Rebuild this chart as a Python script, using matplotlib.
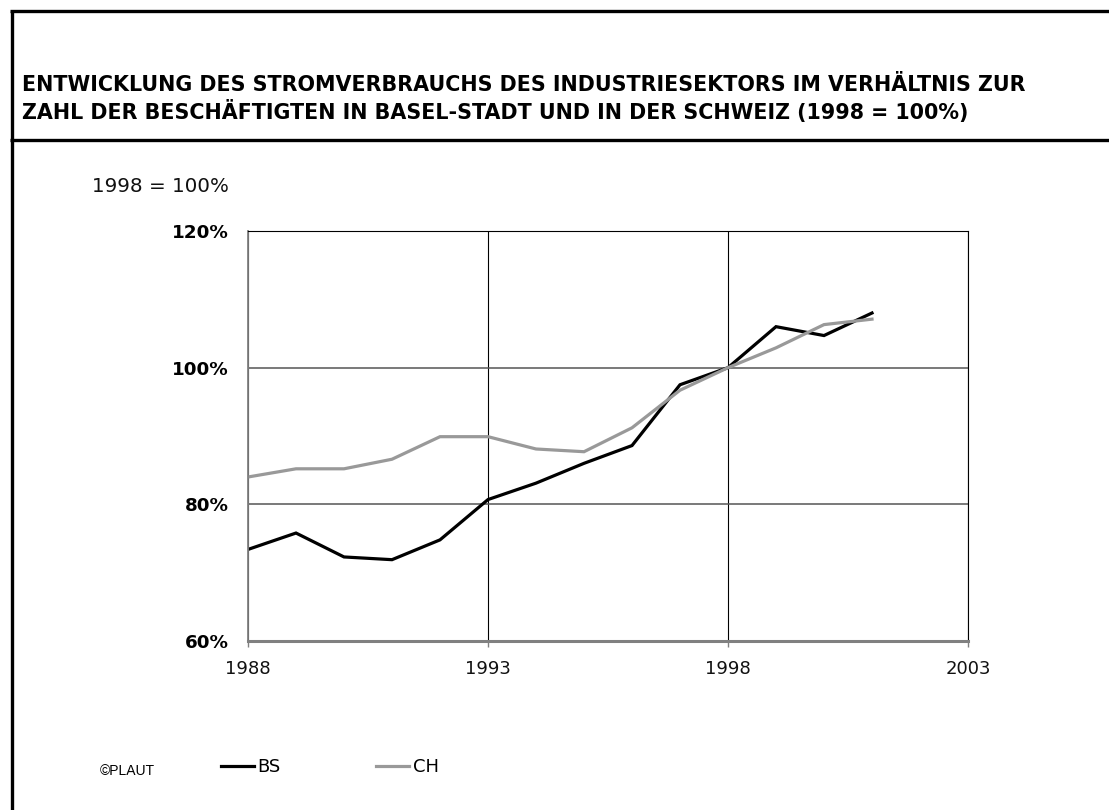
import matplotlib
matplotlib.use("Agg")
import matplotlib.pyplot as plt
from matplotlib.lines import Line2D
from matplotlib.ticker import FuncFormatter
from matplotlib import font_manager as fm

years = [1988, 1989, 1990, 1991, 1992, 1993, 1994, 1995, 1996, 1997, 1998, 1999, 2000, 2001]
bs_values = [73.4, 75.8, 72.3, 71.9, 74.8, 80.7, 83.1, 86.0, 88.6, 97.5, 100.0, 106.0, 104.7, 108.0]
ch_values = [84.0, 85.2, 85.2, 86.6, 89.9, 89.9, 88.1, 87.7, 91.2, 96.7, 100.0, 102.9, 106.3, 107.1]
series_names = ["BS", "CH"]
x_ticks = [1988, 1993, 1998, 2003]
y_ticks = [60, 80, 100, 120]
title_lines = ["ENTWICKLUNG DES STROMVERBRAUCHS DES INDUSTRIESEKTORS IM VERHÄLTNIS ZUR",
               "ZAHL DER BESCHÄFTIGTEN IN BASEL-STADT UND IN DER SCHWEIZ (1998 = 100%)"]
unit_label = "1998 = 100%"
credit = "©PLAUT"

W, H = 1109, 810
fig = plt.figure(figsize=(W / 100, H / 100), dpi=100)

avail = {f.name for f in fm.fontManager.ttflist}
narrow = [f for f in ["Liberation Sans Narrow", "DejaVu Sans Condensed"] if f in avail]
title_family = narrow + ["DejaVu Sans"]

def fx(px):
    return px / W

def fy(py):
    return 1 - py / H

# frame lines
fig.add_artist(Line2D([fx(11.5), fx(11.5)], [fy(10.5), fy(812)], color="black", lw=2.4,
                      transform=fig.transFigure, solid_capstyle="butt"))
fig.add_artist(Line2D([fx(10.3), fx(1112)], [fy(10.5), fy(10.5)], color="black", lw=2.4,
                      transform=fig.transFigure, solid_capstyle="butt"))
fig.add_artist(Line2D([fx(10.3), fx(1112)], [fy(139.5), fy(139.5)], color="black", lw=2.4,
                      transform=fig.transFigure, solid_capstyle="butt"))

# title, fitted to measured width
renderer = fig.canvas.get_renderer()
t1 = fig.text(fx(22), fy(85), title_lines[0], family=title_family, weight="bold",
              fontsize=16, ha="left", va="center")
bb = t1.get_window_extent(renderer=renderer)
scale = (1025 - 22) / bb.width
fs = 16 * scale
t1.set_fontsize(fs)
fig.text(fx(22), fy(112), title_lines[1], family=title_family, weight="bold",
         fontsize=fs, ha="left", va="center")

ax = fig.add_axes([fx(248), fy(641), fx(968) - fx(248), fy(231) - fy(641)])
ax.plot(years, bs_values, color="black", lw=2.3, label=series_names[0], solid_joinstyle="miter")
ax.plot(years, ch_values, color="#999999", lw=2.3, label=series_names[1], solid_joinstyle="miter")

ax.set_xlim(1988, 2003)
ax.set_ylim(60, 120)
ax.set_xticks(x_ticks)
ax.set_yticks(y_ticks)
ax.yaxis.set_major_formatter(FuncFormatter(lambda v, p: f"{v:.0f}%"))
ax.grid(True, axis="x", color="black", lw=0.8)
ax.grid(True, axis="y", color="#555555", lw=1.1)
ax.set_axisbelow(True)
for s in ["top", "right"]:
    ax.spines[s].set_color("black")
    ax.spines[s].set_linewidth(0.8)
ax.spines["left"].set_color("#808080")
ax.spines["left"].set_linewidth(1.3)
ax.spines["bottom"].set_color("#808080")
ax.spines["bottom"].set_linewidth(2.2)
ax.tick_params(axis="x", direction="out", length=4, width=1, color="#808080",
               pad=10, labelsize=13, labelcolor="#111111")
ax.tick_params(axis="y", length=0, pad=14, labelsize=13.2)
for lbl in ax.get_yticklabels():
    lbl.set_fontweight("bold")

fig.text(fx(92), fy(186), unit_label, fontsize=14.3, ha="left", va="center", color="#111111")
fig.text(fx(100), fy(771), credit, family=["Liberation Sans", "DejaVu Sans"], fontsize=10,
         ha="left", va="center")

leg = ax.legend(loc="center", bbox_to_anchor=(fx(330), fy(767)), bbox_transform=fig.transFigure,
                ncol=2, frameon=False, handlelength=1.8, handletextpad=0.2, columnspacing=5.3,
                prop={"family": title_family, "size": 13})

fig.savefig("out.png", dpi=100)
